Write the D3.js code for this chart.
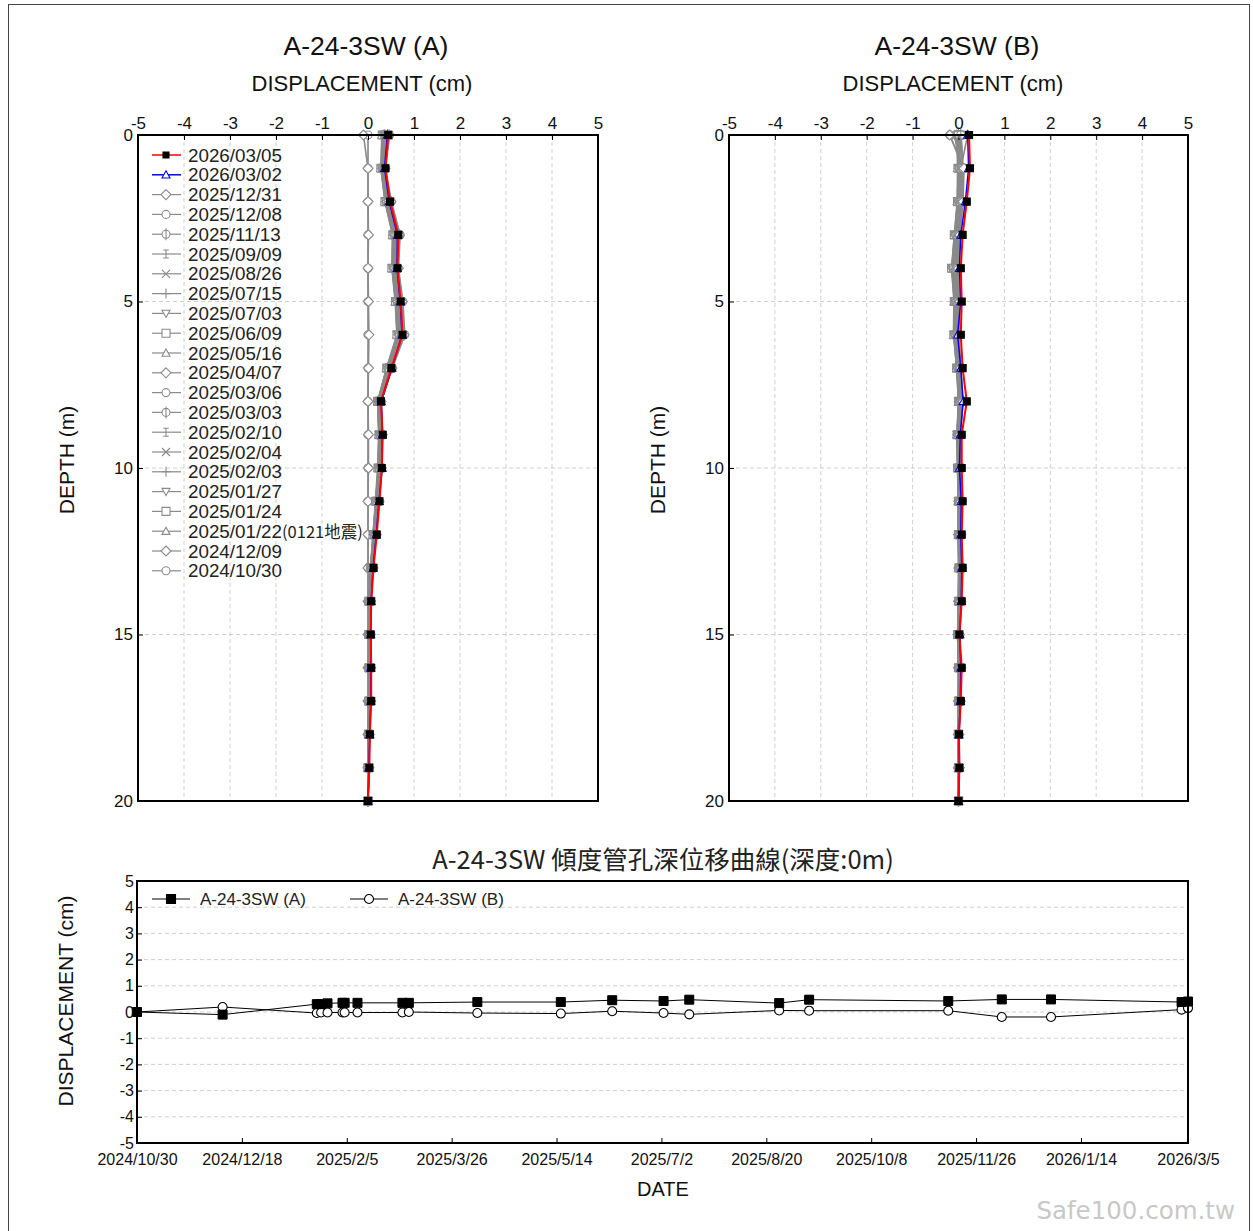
<!DOCTYPE html>
<html><head><meta charset="utf-8">
<script src="https://cdn.jsdelivr.net/npm/d3@7/dist/d3.min.js"></script>
<style>
body{margin:0;background:#fff}
svg{display:block}
text{font-family:"Liberation Sans",Arial,sans-serif}
</style>
</head><body>
<svg id="c" width="1253" height="1231"></svg>
<script>
// ---------------- DATA ----------------
const depths = [0,1,2,3,4,5,6,7,8,9,10,11,12,13,14,15,16,17,18,19,20];
const displacementTicks = [-5,-4,-3,-2,-1,0,1,2,3,4,5];
const depthTicks = [0,5,10,15,20];
// legend order (newest first)
const surveyDates = ["2026/03/05","2026/03/02","2025/12/31","2025/12/08","2025/11/13","2025/09/09","2025/08/26","2025/07/15","2025/07/03","2025/06/09","2025/05/16","2025/04/07","2025/03/06","2025/03/03","2025/02/10","2025/02/04","2025/02/03","2025/01/27","2025/01/24","2025/01/22","2024/12/09","2024/10/30"];
const surveyNotes = ["","","","","","","","","","","","","","","","","","","","(0121地震)","",""];
const markerTypes = ["square","triangle","diamond","circle","circleplus","ibeam","cross","plus","down","square","triangle","diamond","circle","circleplus","ibeam","cross","plus","down","square","triangle","diamond","circle"];

// Profile A (cm), one row per survey date, values at depths 0..20
const dispA = [
 [0.44,0.38,0.48,0.66,0.64,0.71,0.75,0.51,0.28,0.32,0.30,0.25,0.19,0.12,0.07,0.06,0.07,0.07,0.04,0.03,0],
 [0.42,0.36,0.46,0.64,0.63,0.70,0.74,0.52,0.29,0.31,0.31,0.24,0.18,0.11,0.07,0.06,0.06,0.06,0.04,0.02,0],
 [0.46,0.37,0.50,0.68,0.66,0.74,0.78,0.52,0.28,0.31,0.29,0.24,0.18,0.11,0.06,0.05,0.06,0.06,0.03,0.02,0],
 [0.47,0.38,0.51,0.70,0.66,0.76,0.80,0.53,0.29,0.31,0.29,0.24,0.17,0.10,0.06,0.05,0.05,0.05,0.03,0.02,0],
 [0.43,0.36,0.49,0.68,0.65,0.74,0.78,0.50,0.27,0.30,0.28,0.23,0.17,0.10,0.05,0.05,0.05,0.05,0.03,0.02,0],
 [0.46,0.37,0.48,0.67,0.64,0.73,0.77,0.50,0.27,0.30,0.28,0.22,0.16,0.10,0.05,0.04,0.05,0.05,0.03,0.02,0],
 [0.36,0.32,0.45,0.64,0.62,0.71,0.75,0.49,0.27,0.29,0.27,0.22,0.16,0.09,0.05,0.04,0.05,0.05,0.02,0.02,0],
 [0.46,0.36,0.47,0.66,0.63,0.72,0.76,0.49,0.26,0.29,0.27,0.21,0.15,0.09,0.04,0.04,0.04,0.04,0.02,0.01,0],
 [0.42,0.35,0.46,0.64,0.62,0.70,0.74,0.48,0.26,0.28,0.26,0.21,0.15,0.09,0.04,0.04,0.04,0.04,0.02,0.01,0],
 [0.44,0.35,0.45,0.63,0.61,0.69,0.73,0.47,0.25,0.28,0.26,0.20,0.15,0.08,0.04,0.03,0.04,0.04,0.02,0.01,0],
 [0.38,0.33,0.43,0.61,0.59,0.67,0.71,0.46,0.25,0.27,0.25,0.20,0.14,0.08,0.04,0.03,0.04,0.04,0.02,0.01,0],
 [0.37,0.33,0.42,0.60,0.58,0.66,0.70,0.45,0.24,0.27,0.25,0.19,0.14,0.08,0.03,0.03,0.03,0.03,0.02,0.01,0],
 [0.35,0.31,0.40,0.58,0.56,0.64,0.68,0.44,0.23,0.26,0.24,0.19,0.13,0.07,0.03,0.03,0.03,0.03,0.01,0.01,0],
 [0.35,0.31,0.40,0.57,0.56,0.63,0.67,0.43,0.23,0.26,0.24,0.18,0.13,0.07,0.03,0.03,0.03,0.03,0.01,0.01,0],
 [0.34,0.30,0.39,0.56,0.55,0.62,0.66,0.43,0.22,0.25,0.23,0.18,0.12,0.07,0.03,0.02,0.03,0.03,0.01,0.01,0],
 [0.34,0.30,0.39,0.56,0.54,0.62,0.65,0.42,0.22,0.25,0.23,0.18,0.12,0.06,0.03,0.02,0.03,0.03,0.01,0.01,0],
 [0.34,0.29,0.38,0.55,0.54,0.61,0.65,0.42,0.22,0.24,0.22,0.17,0.12,0.06,0.02,0.02,0.02,0.02,0.01,0.00,0],
 [0.33,0.29,0.38,0.55,0.53,0.60,0.64,0.41,0.21,0.24,0.22,0.17,0.11,0.06,0.02,0.02,0.02,0.02,0.01,0.00,0],
 [0.31,0.28,0.37,0.54,0.52,0.60,0.63,0.41,0.21,0.24,0.22,0.17,0.11,0.06,0.02,0.02,0.02,0.02,0.01,0.00,0],
 [0.30,0.28,0.37,0.53,0.52,0.59,0.63,0.40,0.21,0.23,0.21,0.16,0.11,0.05,0.02,0.02,0.02,0.02,0.01,0.00,0],
 [-0.10,0.00,0.00,0.01,0.00,0.01,0.02,0.01,0.00,0.01,0.01,0.00,0.00,0.00,0.00,0.00,0.00,0.00,0.00,0.00,0],
 [0,0,0,0,0,0,0,0,0,0,0,0,0,0,0,0,0,0,0,0,0]
];
// Profile B (cm)
const dispB = [
 [0.23,0.25,0.18,0.09,0.05,0.07,0.05,0.09,0.18,0.07,0.07,0.09,0.07,0.09,0.07,0.02,0.07,0.05,0.01,0.02,0],
 [0.20,0.22,0.15,0.05,0.02,0.05,-0.02,0.05,0.10,0.04,0.02,0.06,0.05,0.07,0.06,0.03,0.05,0.04,0.01,0.02,0],
 [-0.19,0.12,0.10,0.03,0.00,0.03,0.01,0.05,0.10,0.04,0.05,0.06,0.05,0.07,0.05,0.02,0.05,0.04,0.01,0.02,0],
 [-0.19,0.10,0.08,0.02,-0.02,0.02,0.00,0.04,0.09,0.03,0.04,0.05,0.05,0.06,0.05,0.01,0.05,0.03,0.01,0.01,0],
 [0.05,0.08,0.06,0.00,-0.04,0.00,-0.02,0.03,0.08,0.02,0.03,0.05,0.04,0.06,0.04,0.01,0.04,0.03,0.00,0.01,0],
 [0.05,0.10,0.08,0.01,-0.03,0.01,-0.01,0.04,0.08,0.03,0.03,0.05,0.04,0.06,0.04,0.01,0.04,0.03,0.00,0.01,0],
 [0.06,0.09,0.07,0.00,-0.05,0.00,-0.02,0.02,0.07,0.02,0.02,0.04,0.04,0.05,0.04,0.01,0.04,0.02,0.00,0.01,0],
 [-0.09,0.05,0.04,-0.03,-0.08,-0.03,-0.04,0.01,0.06,0.01,0.02,0.04,0.03,0.05,0.03,0.00,0.03,0.02,0.00,0.01,0],
 [-0.04,0.06,0.05,-0.02,-0.06,-0.02,-0.03,0.02,0.06,0.01,0.02,0.04,0.03,0.05,0.03,0.00,0.03,0.02,0.00,0.01,0],
 [0.03,0.07,0.05,-0.01,-0.05,-0.01,-0.03,0.02,0.06,0.01,0.02,0.03,0.03,0.04,0.03,0.00,0.03,0.02,0.00,0.00,0],
 [-0.05,0.04,0.03,-0.04,-0.09,-0.04,-0.05,0.00,0.04,0.00,0.01,0.03,0.02,0.04,0.02,0.00,0.02,0.01,0.00,0.00,0],
 [-0.04,0.03,0.02,-0.05,-0.10,-0.05,-0.06,-0.01,0.04,-0.01,0.01,0.02,0.02,0.03,0.02,-0.01,0.02,0.01,0.00,0.00,0],
 [0.02,0.02,0.01,-0.06,-0.12,-0.06,-0.07,-0.02,0.03,-0.01,0.00,0.02,0.01,0.03,0.01,-0.01,0.01,0.01,0.00,0.00,0],
 [0.00,0.02,0.00,-0.06,-0.12,-0.07,-0.08,-0.02,0.02,-0.02,0.00,0.01,0.01,0.02,0.01,-0.01,0.01,0.00,0.00,0.00,0],
 [0.00,0.01,0.00,-0.07,-0.13,-0.07,-0.08,-0.03,0.02,-0.02,-0.01,0.01,0.01,0.02,0.01,-0.01,0.01,0.00,0.00,0.00,0],
 [0.00,0.00,-0.01,-0.07,-0.13,-0.08,-0.09,-0.03,0.01,-0.02,-0.01,0.01,0.00,0.02,0.01,-0.01,0.01,0.00,0.00,0.00,0],
 [0.00,0.00,-0.01,-0.08,-0.14,-0.08,-0.09,-0.03,0.01,-0.03,-0.01,0.00,0.00,0.01,0.00,-0.02,0.00,0.00,0.00,0.00,0],
 [0.00,-0.01,-0.02,-0.08,-0.14,-0.09,-0.10,-0.04,0.01,-0.03,-0.02,0.00,0.00,0.01,0.00,-0.02,0.00,0.00,0.00,0.00,0],
 [0.00,-0.01,-0.02,-0.09,-0.15,-0.09,-0.10,-0.04,0.00,-0.03,-0.02,0.00,0.00,0.01,0.00,-0.02,0.00,0.00,0.00,0.00,0],
 [-0.04,-0.02,-0.03,-0.09,-0.15,-0.10,-0.11,-0.04,0.00,-0.04,-0.02,-0.01,-0.01,0.00,0.00,-0.02,0.00,0.00,0.00,0.00,0],
 [0.20,0.05,0.02,-0.02,-0.05,-0.03,-0.03,0.00,0.02,0.00,0.00,0.01,0.00,0.01,0.00,-0.01,0.00,0.00,0.00,0.00,0],
 [0,0,0,0,0,0,0,0,0,0,0,0,0,0,0,0,0,0,0,0,0]
];

// Time series at depth 0 m (ascending dates)
const timeDates = ["2024/10/30","2024/12/09","2025/01/22","2025/01/24","2025/01/27","2025/02/03","2025/02/04","2025/02/10","2025/03/03","2025/03/06","2025/04/07","2025/05/16","2025/06/09","2025/07/03","2025/07/15","2025/08/26","2025/09/09","2025/11/13","2025/12/08","2025/12/31","2026/03/02","2026/03/05"];
const topA = [0,-0.10,0.30,0.30,0.33,0.35,0.35,0.35,0.35,0.35,0.38,0.38,0.45,0.42,0.47,0.34,0.47,0.42,0.48,0.48,0.38,0.40];
const topB = [0,0.19,-0.04,-0.02,-0.02,-0.02,-0.02,-0.02,-0.02,0.0,-0.04,-0.06,0.03,-0.04,-0.09,0.06,0.05,0.05,-0.19,-0.19,0.09,0.15];
const timeTickLabels = ["2024/10/30","2024/12/18","2025/2/5","2025/3/26","2025/5/14","2025/7/2","2025/8/20","2025/10/8","2025/11/26","2026/1/14","2026/3/5"];
const timeYTicks = [-5,-4,-3,-2,-1,0,1,2,3,4,5];

// ---------------- DRAW ----------------
const svg = d3.select("#c");
svg.append("rect").attr("x",8.5).attr("y",4.5).attr("width",1241).attr("height",1240)
  .attr("fill","none").attr("stroke","#444").attr("stroke-width",1);

const GRAY = "#8a8a8a";
const plainNum = d => String(d);
function markerPath(type, s){
  const r = s/2;
  switch(type){
    case "square": return d3.symbol(d3.symbolSquare, s*s)();
    case "circle": return d3.symbol(d3.symbolCircle, Math.PI*r*r)();
    case "diamond": return `M0,${-r-1}L${r+1},0L0,${r+1}L${-r-1},0Z`;
    case "triangle": return `M0,${-r}L${r},${r*0.8}L${-r},${r*0.8}Z`;
    case "down": return `M0,${r}L${r},${-r*0.8}L${-r},${-r*0.8}Z`;
    case "circleplus": return d3.symbol(d3.symbolCircle, Math.PI*r*r)() + `M0,${-r-2}V${r+2}`;
    case "ibeam": return `M0,${-r}V${r}M${-r*0.7},${-r}H${r*0.7}M${-r*0.7},${r}H${r*0.7}`;
    case "cross": return `M${-r},${-r}L${r},${r}M${-r},${r}L${r},${-r}`;
    case "plus": return `M${-r-1},0H${r+1}M0,${-r-1}V${r+1}`;
  }
}
function seriesStyle(i){
  if(i===0) return {line:"#ff0000", lw:2, mstroke:"#000", mfill:"#000", msize:7};
  if(i===1) return {line:"#0000ff", lw:1.5, mstroke:"#0000ff", mfill:"#fff", msize:8};
  return {line:GRAY, lw:1.6, mstroke:GRAY, mfill:"#fff", msize:8};
}

function drawProfile(x0, x1, title, titleX, data, withLegend, ylabX){
  const y0 = 135, y1 = 801;
  const x = d3.scaleLinear().domain([-5,5]).range([x0,x1]);
  const y = d3.scaleLinear().domain([0,20]).range([y0,y1]);
  const g = svg.append("g");
  // titles
  g.append("text").attr("x",titleX).attr("y",55).attr("text-anchor","middle")
    .attr("font-size",26.5).attr("fill","#111").text(title);
  g.append("text").attr("x",titleX-4).attr("y",91).attr("text-anchor","middle")
    .attr("font-size",22).attr("fill","#111").text("DISPLACEMENT (cm)");
  g.append("text").attr("transform",`translate(${ylabX},460) rotate(-90)`).attr("text-anchor","middle")
    .attr("dominant-baseline","central").attr("font-size",21).attr("fill","#111").text("DEPTH (m)");
  // grid
  const grid = g.append("g").attr("stroke","#cfcfcf").attr("stroke-dasharray","4,3").attr("stroke-width",1);
  displacementTicks.filter(v=>v>-5 && v<5).forEach(v=>{
    grid.append("line").attr("x1",x(v)).attr("x2",x(v)).attr("y1",y0).attr("y2",y1);
  });
  depthTicks.filter(v=>v>0 && v<20).forEach(v=>{
    grid.append("line").attr("x1",x0).attr("x2",x1).attr("y1",y(v)).attr("y2",y(v));
  });
  // legend
  if(withLegend){
    const lg = g.append("g");
    surveyDates.forEach((d,i)=>{
      const st = seriesStyle(i);
      const ly = 155 + i*19.8;
      lg.append("line").attr("x1",152).attr("x2",181).attr("y1",ly).attr("y2",ly)
        .attr("stroke",st.line).attr("stroke-width",i<2?1.5:1.2);
      lg.append("path").attr("transform",`translate(166,${ly})`).attr("d",markerPath(markerTypes[i], i===0?6:8))
        .attr("stroke",st.mstroke).attr("fill",st.mfill).attr("stroke-width",1.1);
      const t = lg.append("text").attr("x",188).attr("y",ly).attr("dominant-baseline","central")
        .attr("font-size",18.8).attr("fill","#222").text(d);
      if(surveyNotes[i]) t.append("tspan").attr("font-size",16.5).attr("font-family","'Noto Sans CJK TC',sans-serif").text(surveyNotes[i]);
    });
  }
  // series (oldest first so newest on top)
  const line = d3.line().x(d=>x(d[0])).y(d=>y(d[1]));
  for(let i=data.length-1;i>=0;i--){
    const st = seriesStyle(i);
    const pts = data[i].map((v,k)=>[v,depths[k]]);
    const sg = g.append("g");
    sg.append("path").attr("d",line(pts)).attr("fill","none").attr("stroke",st.line).attr("stroke-width",st.lw);
    sg.selectAll("path.m").data(pts).join("path").attr("class","m")
      .attr("transform",d=>`translate(${x(d[0])},${y(d[1])})`)
      .attr("d",markerPath(markerTypes[i], st.msize))
      .attr("stroke",st.mstroke).attr("fill",st.mfill).attr("stroke-width",1.1);
  }
  // axes
  const ax = g.append("g").attr("transform",`translate(0,${y0})`)
    .call(d3.axisTop(x).tickValues(displacementTicks).tickSize(-5).tickPadding(6).tickFormat(plainNum));
  ax.select(".domain").remove();
  ax.selectAll("text").attr("font-size",17).attr("fill","#111").style("font-family","'Liberation Sans',Arial,sans-serif");
  const ay = g.append("g").attr("transform",`translate(${x0},0)`)
    .call(d3.axisLeft(y).tickValues(depthTicks).tickSize(-5).tickPadding(5).tickFormat(plainNum));
  ay.select(".domain").remove();
  ay.selectAll("text").attr("font-size",17).attr("fill","#111").style("font-family","'Liberation Sans',Arial,sans-serif");
  g.append("rect").attr("x",x0).attr("y",y0).attr("width",x1-x0).attr("height",y1-y0)
    .attr("fill","none").attr("stroke","#000").attr("stroke-width",2);
}

drawProfile(138, 598, "A-24-3SW (A)", 366, dispA, true, 66);
drawProfile(729, 1188, "A-24-3SW (B)", 957, dispB, false, 657);

// ---------- time chart ----------
(function(){
  const parse = d3.timeParse("%Y/%m/%d");
  const x0 = 137, x1 = 1188, y0 = 881, y1 = 1143;
  const x = d3.scaleTime().domain([parse(timeDates[0]), parse(timeDates[timeDates.length-1])]).range([x0,x1]);
  const y = d3.scaleLinear().domain([-5,5]).range([y1,y0]);
  const g = svg.append("g");
  g.append("text").attr("x",663).attr("y",857).attr("text-anchor","middle").attr("dominant-baseline","central")
    .attr("font-size",25.5).attr("fill","#222").style("font-family","'Noto Sans CJK TC',sans-serif")
    .text("A-24-3SW 傾度管孔深位移曲線(深度:0m)");
  g.append("text").attr("x",663).attr("y",1196).attr("text-anchor","middle")
    .attr("font-size",20).attr("fill","#111").text("DATE");
  g.append("text").attr("transform",`translate(65,1001) rotate(-90)`).attr("text-anchor","middle")
    .attr("dominant-baseline","central").attr("font-size",21).attr("fill","#111").text("DISPLACEMENT (cm)");
  const grid = g.append("g").attr("stroke","#cfcfcf").attr("stroke-dasharray","4,3");
  timeYTicks.filter(v=>v>-5 && v<5).forEach(v=>{
    grid.append("line").attr("x1",x0).attr("x2",x1).attr("y1",y(v)).attr("y2",y(v));
  });
  const line = d3.line().x(d=>x(d[0])).y(d=>y(d[1]));
  const ptsA = timeDates.map((d,i)=>[parse(d), topA[i]]);
  const ptsB = timeDates.map((d,i)=>[parse(d), topB[i]]);
  g.append("path").attr("d",line(ptsB)).attr("fill","none").attr("stroke","#000").attr("stroke-width",1);
  g.append("path").attr("d",line(ptsA)).attr("fill","none").attr("stroke","#000").attr("stroke-width",1);
  g.selectAll("path.mb").data(ptsB).join("path").attr("class","mb")
    .attr("transform",d=>`translate(${x(d[0])},${y(d[1])})`).attr("d",markerPath("circle",9))
    .attr("fill","#fff").attr("stroke","#000").attr("stroke-width",1.1);
  g.selectAll("path.ma").data(ptsA).join("path").attr("class","ma")
    .attr("transform",d=>`translate(${x(d[0])},${y(d[1])})`).attr("d",markerPath("square",9))
    .attr("fill","#000").attr("stroke","#000");
  // legend
  const lg = g.append("g");
  [[152,"square","#000","A-24-3SW (A)"],[350,"circle","#fff","A-24-3SW (B)"]].forEach(([lx,m,f,t])=>{
    lg.append("line").attr("x1",lx).attr("x2",lx+38).attr("y1",899).attr("y2",899).attr("stroke","#000");
    lg.append("path").attr("transform",`translate(${lx+19},899)`).attr("d",markerPath(m,9)).attr("fill",f).attr("stroke","#000").attr("stroke-width",1.1);
    lg.append("text").attr("x",lx+48).attr("y",899).attr("dominant-baseline","central").attr("font-size",17).attr("fill","#222").text(t);
  });
  // axes
  const tickDates = timeTickLabels.map(s=>parse(s.split("/").map((p,i)=>i?p.padStart(2,"0"):p).join("/")));
  const ax = g.append("g").attr("transform",`translate(0,${y1})`)
    .call(d3.axisBottom(x).tickValues(tickDates).tickSize(-5).tickPadding(11).tickFormat((d,i)=>timeTickLabels[i]));
  ax.select(".domain").remove();
  ax.selectAll("text").attr("font-size",16).attr("fill","#111").style("font-family","'Liberation Sans',Arial,sans-serif");
  const ay = g.append("g").attr("transform",`translate(${x0},0)`)
    .call(d3.axisLeft(y).tickValues(timeYTicks).tickSize(-5).tickPadding(3).tickFormat(plainNum));
  ay.select(".domain").remove();
  ay.selectAll("text").attr("font-size",16).attr("fill","#111").style("font-family","'Liberation Sans',Arial,sans-serif");
  g.append("rect").attr("x",x0).attr("y",y0).attr("width",x1-x0).attr("height",y1-y0)
    .attr("fill","none").attr("stroke","#000").attr("stroke-width",2);
  g.append("text").attr("x",1235).attr("y",1219).attr("text-anchor","end").attr("font-size",24.5)
    .attr("fill","#c8c8c8").style("font-family","'DejaVu Sans',sans-serif").text("Safe100.com.tw");
})();
</script>
</body></html>
